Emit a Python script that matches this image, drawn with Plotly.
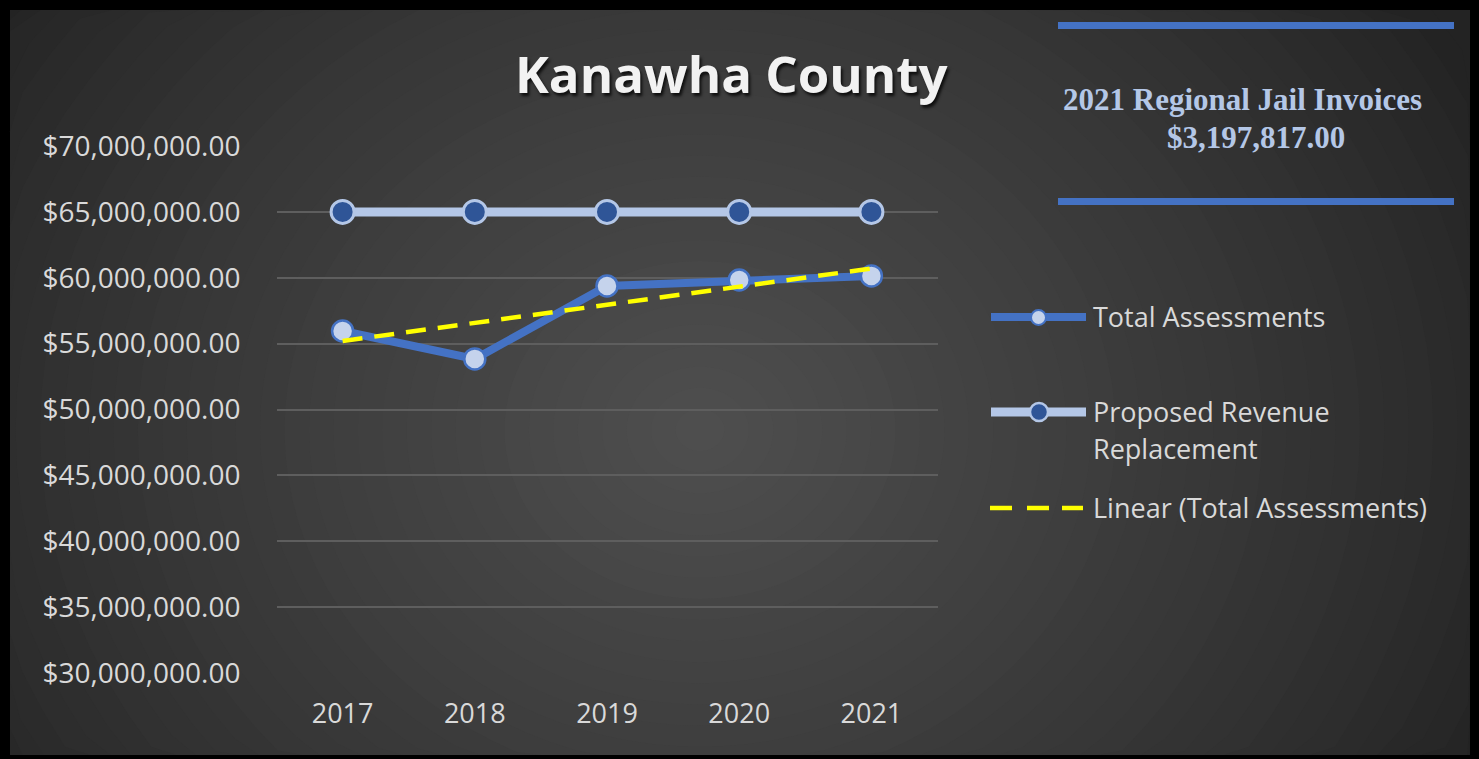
import math
import plotly.graph_objects as go

# ---------------- data ----------------
years = ["2017", "2018", "2019", "2020", "2021"]
total_assessments = [55_960_000, 53_840_000, 59_380_000, 59_830_000, 60_140_000]
proposed_revenue = [65_000_000, 65_000_000, 65_000_000, 65_000_000, 65_000_000]
trend_years = ["2017", "2021"]
trend_values = [55_200_000, 60_700_000]
y_ticks = [30_000_000, 35_000_000, 40_000_000, 45_000_000, 50_000_000,
           55_000_000, 60_000_000, 65_000_000, 70_000_000]

title_text = "Kanawha County"
box_line1 = "2021 Regional Jail Invoices"
box_line2 = "$3,197,817.00"
legend_names = ["Total Assessments", "Proposed Revenue", "Replacement", "Linear (Total Assessments)"]

W, H = 1479, 759


def px(x):
    return x / W


def py(y):
    return 1 - y / H


BLUE = "#4472C4"
LIGHT = "#B4C7E7"
DARK = "#2F5597"
TXT = "#D9D9D9"
FONT = "Open Sans"

fig = go.Figure()

fig.add_trace(go.Scatter(
    x=years, y=total_assessments, mode="lines+markers", name=legend_names[0],
    line=dict(color=BLUE, width=8),
    marker=dict(size=21, color="#C5D3EC", line=dict(color=BLUE, width=2.5)),
    showlegend=False,
))
fig.add_trace(go.Scatter(
    x=years, y=proposed_revenue, mode="lines+markers", name="Proposed Revenue Replacement",
    line=dict(color=LIGHT, width=9),
    marker=dict(size=23, color=DARK, line=dict(color=LIGHT, width=3)),
    showlegend=False,
))
fig.add_trace(go.Scatter(
    x=trend_years, y=trend_values, mode="lines", name=legend_names[3],
    line=dict(color="#FFFF00", width=4.5, dash="20px,12px"),
    showlegend=False,
))

shapes = []
# card area
CX0, CY0, CX1, CY1 = 10, 10, 1470, 755
shapes.append(dict(type="rect", xref="paper", yref="paper", layer="below",
                   x0=px(CX0), x1=px(CX1), y0=py(CY1), y1=py(CY0),
                   fillcolor="rgb(35,35,35)", line=dict(width=0)))
# radial-like gradient: nested ellipses clamped to the card
N = 36
c_out, c_in = 35, 78
cx, cy = 700, 430
rx, ry = 880, 760
for k in range(N):
    s = 1 - k / N
    v = int(round(c_out + (c_in - c_out) * (k / (N - 1)) ** 0.85))
    pts = []
    for i in range(96):
        t = 2 * math.pi * i / 96
        x = min(max(cx + rx * s * math.cos(t), CX0), CX1)
        y = min(max(cy + ry * s * math.sin(t), CY0), CY1)
        pts.append(f"{px(x):.5f},{py(y):.5f}")
    path = "M" + " L".join(pts) + " Z"
    shapes.append(dict(type="path", path=path, xref="paper", yref="paper", layer="below",
                       fillcolor=f"rgb({v},{v},{v})", line=dict(width=0)))
# blue rules of the info box
for yy in (25.5, 201.5):
    shapes.append(dict(type="line", xref="paper", yref="paper", layer="above",
                       x0=px(1058), x1=px(1454), y0=py(yy), y1=py(yy),
                       line=dict(color=BLUE, width=7)))
# legend samples
shapes.append(dict(type="line", xref="paper", yref="paper", layer="above",
                   x0=px(991), x1=px(1086), y0=py(317), y1=py(317),
                   line=dict(color=BLUE, width=8)))
shapes.append(dict(type="circle", xref="paper", yref="paper", layer="above",
                   x0=px(1031), x1=px(1046), y0=py(325), y1=py(310),
                   fillcolor="#C5D3EC", line=dict(color=BLUE, width=2)))
shapes.append(dict(type="line", xref="paper", yref="paper", layer="above",
                   x0=px(991), x1=px(1086), y0=py(412), y1=py(412),
                   line=dict(color=LIGHT, width=9)))
shapes.append(dict(type="circle", xref="paper", yref="paper", layer="above",
                   x0=px(1030), x1=px(1048), y0=py(421), y1=py(403),
                   fillcolor=DARK, line=dict(color=LIGHT, width=2.5)))
for (a, b) in [(990, 1012), (1027, 1049), (1062, 1083)]:
    shapes.append(dict(type="line", xref="paper", yref="paper", layer="above",
                       x0=px(a), x1=px(b), y0=py(508), y1=py(508),
                       line=dict(color="#FFFF00", width=4.5)))

annotations = [
    dict(text=f"<b>{title_text}</b>", x=px(731), y=py(73), xref="paper", yref="paper",
         showarrow=False, xanchor="center", yanchor="middle",
         font=dict(family=FONT, size=51, color="#F2F2F2",
                   shadow="2px 3px 3px rgba(0,0,0,0.75)")),
    dict(text=f"<b>{box_line1}</b>", x=px(1242), y=py(99), xref="paper", yref="paper",
         showarrow=False, xanchor="center", yanchor="middle",
         font=dict(family="Liberation Serif", size=31, color=LIGHT)),
    dict(text=f"<b>{box_line2}</b>", x=px(1256), y=py(137), xref="paper", yref="paper",
         showarrow=False, xanchor="center", yanchor="middle",
         font=dict(family="Liberation Serif", size=31, color=LIGHT)),
]
for name, yy in zip(legend_names, (317, 411, 449, 507)):
    annotations.append(dict(text=name, x=px(1091), y=py(yy), xref="paper", yref="paper",
                            showarrow=False, xanchor="left", yanchor="middle",
                            font=dict(family=FONT, size=27, color=TXT)))

fig.update_layout(
    width=W, height=H,
    margin=dict(l=0, r=0, t=0, b=0, pad=0, autoexpand=False),
    paper_bgcolor="black",
    plot_bgcolor="rgba(0,0,0,0)",
    shapes=shapes,
    annotations=annotations,
    showlegend=False,
    xaxis=dict(
        domain=[px(276.5), px(937.5)],
        type="category", range=[-0.5, 4.5],
        showgrid=False, zeroline=False, showline=False, automargin=False,
        ticks="", ticklabelstandoff=22,
        tickfont=dict(family=FONT, size=27, color=TXT),
    ),
    yaxis=dict(
        domain=[py(673), py(146)],
        range=[30_000_000, 70_000_000],
        tickvals=y_ticks, tickformat="$,.2f",
        showgrid=True, gridcolor="#5E5E5E", gridwidth=2,
        zeroline=False, showline=False, automargin=False,
        ticks="", ticklabelstandoff=35,
        tickfont=dict(family=FONT, size=28, color=TXT),
    ),
)

fig.write_html("out.html", config={"displayModeBar": False},
               post_script="document.body.style.margin='0';")
